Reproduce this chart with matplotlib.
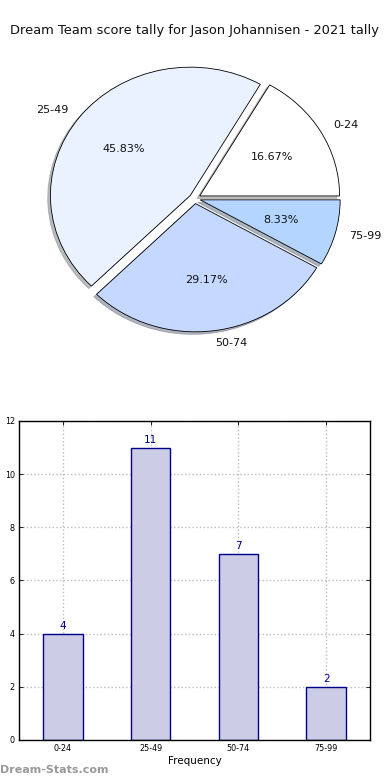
import matplotlib
matplotlib.use("Agg")
import matplotlib.pyplot as plt

title = "Dream Team score tally for Jason Johannisen - 2021 tally"
categories = ["0-24", "25-49", "50-74", "75-99"]
counts = [4, 11, 7, 2]
pie_colors = ["#FFFFFF", "#EAF1FF", "#C5D8FF", "#B3D5FF"]
explode = [0.04, 0.04, 0.04, 0.04]
yticks = [0, 2, 4, 6, 8, 10, 12]

fig = plt.figure(figsize=(3.9, 7.8), dpi=100)

# Pie
axp = fig.add_axes([0.051, 0.540, 0.897, 0.411])
wedges, texts, autotexts = axp.pie(
    counts, labels=categories, colors=pie_colors, explode=explode,
    autopct="%.2f%%", shadow={"ox": -0.014, "oy": -0.014, "shade": 0.5}, startangle=0,
    wedgeprops=dict(edgecolor="black", linewidth=0.6),
    textprops=dict(fontsize=8, color="#111111"))
axp.set_aspect("auto")
axp.set_xlim(-1.25, 1.25)
axp.set_ylim(-1.25, 1.25)
axp.axis("off")

fig.text(0.5, 0.961, title, ha="center", va="center", fontsize=9.4, color="#111111")

# Bar
axb = fig.add_axes([0.0487, 0.0513, 0.9, 0.409])
x = list(range(len(categories)))
axb.bar(x, counts, width=0.45, color="#CCCCE6", edgecolor="#00008B", linewidth=1.0, zorder=2)
for xi, v in zip(x, counts):
    axb.text(xi, v + 0.1, str(v), ha="center", va="bottom", fontsize=7.5, color="#00008B")
axb.set_xlim(-0.5, 3.5)
axb.set_ylim(0, 12)
axb.set_xticks(x)
axb.set_xticklabels(categories, fontsize=5.8)
axb.set_yticks(yticks)
axb.set_yticklabels([str(t) for t in yticks], fontsize=5.8)
axb.tick_params(direction="in", top=True, right=True, length=3, width=0.6, pad=3)
axb.grid(True, linestyle=":", color="#BBBBBB", linewidth=1.0, zorder=0)
axb.set_axisbelow(True)
for s in axb.spines.values():
    s.set_linewidth(1.0)
axb.set_xlabel("Frequency", fontsize=7.5, labelpad=2)
axb.set_ylabel("Scores in Band", fontsize=7.5, labelpad=8)

fig.text(0.0, 0.013, "Dream-Stats.com", ha="left", va="center", fontsize=8,
         color="#999999", fontweight="bold")

fig.savefig("out.png", dpi=100)
